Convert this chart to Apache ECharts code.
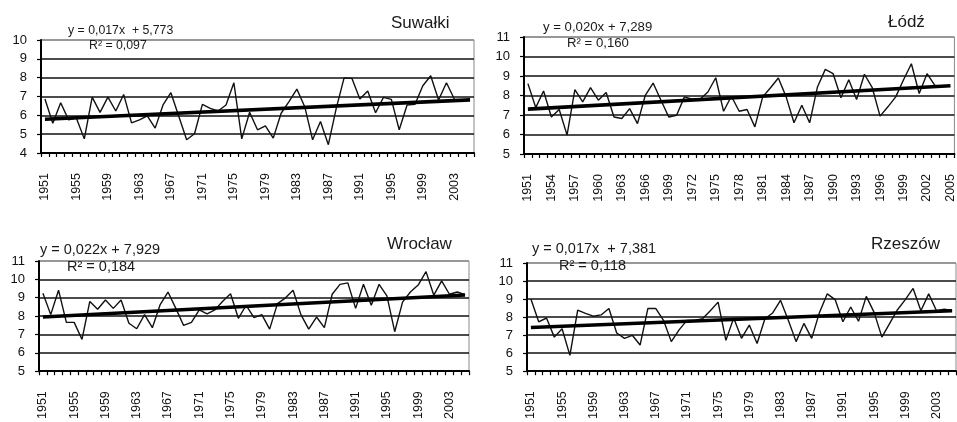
<!DOCTYPE html>
<html>
<head>
<meta charset="utf-8">
<script src="https://cdn.jsdelivr.net/npm/echarts@6/dist/echarts.min.js"></script>
<style>
    html, body { margin: 0; padding: 0; background: #fff; }
    #chart { width: 957px; height: 422px; }
</style>
</head>
<body>
<div id="chart"></div>
<script>
    // lata 1951-2005
    var years = [];
    for (var y = 1951; y <= 2005; y++) years.push(String(y));

    var suwalki = [6.87, 5.58, 6.67, 5.76, 5.85, 4.75, 6.97, 6.16, 6.97, 6.23,
        7.11, 5.6, 5.76, 5.97, 5.32, 6.55, 7.2, 5.95, 4.7, 5.02,
        6.58, 6.37, 6.23, 6.55, 7.73, 4.75, 6.16, 5.23, 5.44, 4.79,
        6.11, 6.73, 7.39, 6.46, 4.7, 5.67, 4.44, 6.37, 7.99, 7.96,
        6.87, 7.29, 6.14, 6.95, 6.85, 5.23, 6.55, 6.58, 7.57, 8.1,
        6.81, 7.73, 6.87, null, null];
    var lodz = [8.61, 7.38, 8.23, 6.9, 7.28, 5.97, 8.3, 7.67, 8.4, 7.76,
        8.15, 6.9, 6.82, 7.33, 6.56, 8.01, 8.64, 7.76, 6.9, 6.99,
        7.93, 7.81, 7.81, 8.18, 8.91, 7.19, 7.96, 7.19, 7.28, 6.39,
        7.93, 8.4, 8.9, 7.93, 6.6, 7.5, 6.6, 8.44, 9.34, 9.12,
        7.88, 8.81, 7.79, 9.09, 8.4, 6.94, 7.42, 7.93, 8.81, 9.63,
        8.1, 9.12, 8.52, null, null];
    var wroclaw = [9.24, 8.08, 9.41, 7.66, 7.66, 6.73, 8.8, 8.37, 8.88, 8.42,
        8.88, 7.61, 7.31, 8.08, 7.37, 8.63, 9.31, 8.42, 7.49, 7.66,
        8.34, 8.12, 8.34, 8.81, 9.22, 7.88, 8.59, 7.92, 8.08, 7.29,
        8.68, 8.98, 9.41, 8.08, 7.29, 7.95, 7.37, 9.19, 9.73, 9.81,
        8.42, 9.73, 8.59, 9.73, 9.1, 7.15, 8.76, 9.31, 9.69, 10.42,
        9.14, 9.92, 9.19, 9.31, 9.17];
    var rzeszow = [9.0, 7.74, 7.95, 6.89, 7.35, 5.88, 8.39, 8.21, 8.05, 8.12,
        8.48, 7.12, 6.82, 6.99, 6.45, 8.48, 8.48, 7.82, 6.64, 7.29,
        7.82, 7.82, 7.91, 8.35, 8.83, 6.71, 7.95, 6.82, 7.56, 6.54,
        7.91, 8.23, 8.93, 7.82, 6.64, 7.65, 6.82, 8.26, 9.29, 8.97,
        7.74, 8.56, 7.77, 9.15, 8.26, 6.89, 7.65, 8.41, 8.97, 9.59,
        8.35, 9.29, 8.35, 8.44, 8.35];

    // linia trendu: wartosc na poczatku (1951) i na koncu (2005)
    var trendSuwalki = [5.79, 6.82];
    var trendLodz = [7.3, 8.5];
    var trendWroclaw = [7.95, 9.15];
    var trendRzeszow = [7.42, 8.35];

    var names = ['Suwałki', 'Łódź', 'Wrocław', 'Rzeszów'];
    var equations = ['y = 0,017x  + 5,773', 'y = 0,020x + 7,289', 'y = 0,022x + 7,929', 'y = 0,017x  + 7,381'];
    var r2 = ['R² = 0,097', 'R² = 0,160', 'R² = 0,184', 'R² = 0,118'];
    var yMin = [4, 5, 5, 5];
    var yMax = [10, 11, 11, 11];
    var labelStep = [3, 2, 3, 3];

    var font = 'Arial, "Liberation Sans", sans-serif';
    var grids = [
        {left: 41, top: 40, width: 433, height: 113},
        {left: 524, top: 37, width: 431, height: 117},
        {left: 39, top: 261, width: 430, height: 118},
        {left: 527, top: 263, width: 429, height: 114}
    ];
    var texts = [
        {eq: [68, 31, 12.3], r2: [89, 46, 12.3], title: [391, 23]},
        {eq: [543, 27, 13.2], r2: [567, 43, 13.2], title: [888, 22]},
        {eq: [40, 250, 14.5], r2: [67, 267, 14.5], title: [387, 244]},
        {eq: [532, 249, 14.5], r2: [559, 266, 14.5], title: [871, 244]}
    ];
    var values = [suwalki, lodz, wroclaw, rzeszow];
    var trends = [trendSuwalki, trendLodz, trendWroclaw, trendRzeszow];

    var xAxes = [], yAxes = [], series = [], graphic = [];
    grids.forEach(function (g, i) {
        g.show = true;
        g.borderColor = '#8a8a8a';
        g.borderWidth = 1;
        g.containLabel = false;

        var lines = [];
        for (var k = yMin[i]; k < yMax[i]; k++) lines.push('#111');
        lines.push('#8a8a8a');

        xAxes.push({
            gridIndex: i,
            type: 'category',
            data: years,
            boundaryGap: true,
            axisLine: {lineStyle: {color: '#000', width: 2}},
            axisTick: {show: true, interval: 0, length: 4, lineStyle: {color: '#000', width: 1.2}},
            axisLabel: {
                interval: labelStep[i], rotate: 90, margin: 20,
                fontSize: 12.5, color: '#111', fontFamily: font
            },
            splitLine: {show: false}
        });
        yAxes.push({
            gridIndex: i,
            type: 'value',
            min: yMin[i],
            max: yMax[i],
            interval: 1,
            axisLine: {show: true, lineStyle: {color: '#000', width: 2}},
            axisTick: {show: true, length: 4, lineStyle: {color: '#000', width: 1.2}},
            axisLabel: {fontSize: 13, color: '#111', fontFamily: font, margin: 14},
            splitLine: {show: true, lineStyle: {color: lines, width: 1.6}}
        });
        series.push({
            type: 'line',
            xAxisIndex: i,
            yAxisIndex: i,
            data: values[i],
            symbol: 'none',
            lineStyle: {color: '#111', width: 1.4},
            animation: false
        });
        series.push({
            type: 'line',
            xAxisIndex: i,
            yAxisIndex: i,
            data: [[0, trends[i][0]], [years.length - 1, trends[i][1]]],
            symbol: 'none',
            lineStyle: {color: '#000', width: 3.6},
            animation: false
        });

        var t = texts[i];
        graphic.push({
            type: 'text', x: t.eq[0], y: t.eq[1], z: 100,
            style: {text: equations[i], font: t.eq[2] + 'px ' + font, fill: '#1a1a1a', verticalAlign: 'middle'}
        });
        graphic.push({
            type: 'text', x: t.r2[0], y: t.r2[1], z: 100,
            style: {text: r2[i], font: t.r2[2] + 'px ' + font, fill: '#1a1a1a', verticalAlign: 'middle'}
        });
        graphic.push({
            type: 'text', x: t.title[0], y: t.title[1], z: 100,
            style: {text: names[i], font: '17px ' + font, fill: '#1a1a1a', verticalAlign: 'middle'}
        });
    });

    var chart = echarts.init(document.getElementById('chart'));
    chart.setOption({
        animation: false,
        grid: grids,
        xAxis: xAxes,
        yAxis: yAxes,
        series: series,
        graphic: graphic
    });
</script>
</body>
</html>
